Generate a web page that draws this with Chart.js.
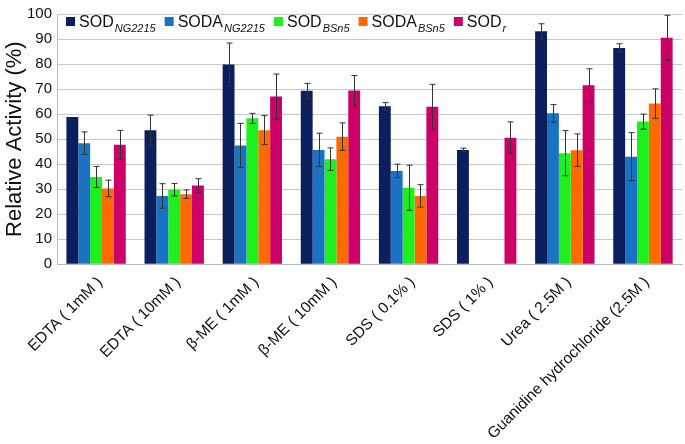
<!DOCTYPE html>
<html>
<head>
<meta charset="utf-8">
<script src="https://cdn.jsdelivr.net/npm/chart.js@4.4.0/dist/chart.umd.min.js"></script>
<style>
  html, body { margin: 0; padding: 0; background: #fff; }
  #wrap { width: 685px; height: 444px; }
</style>
</head>
<body>
<div id="wrap"><canvas id="chart" width="685" height="444"></canvas></div>
<script>
// categories (x axis)
const categories = [
  "EDTA ( 1mM )", "EDTA ( 10mM )", "β-ME ( 1mM )", "β-ME ( 10mM )",
  "SDS ( 0.1% )", "SDS ( 1% )", "Urea ( 2.5M )", "Guanidine hydrochloride (2.5M )"
];

// series values and error bars
const sodNG = [58.8, 53.6, 79.8, 69.3, 63.1, 45.7, 93.1, 86.4];
const sodNGErr = [0, 6, 8.6, 3, 1.5, 0.7, 3, 1.7];
const sodaNG = [48.4, 27.3, 47.5, 45.7, 37.3, null, 60.3, 43];
const sodaNGErr = [4.5, 4.9, 8.8, 6.7, 2.7, 0, 3.5, 9.6];
const sodBS = [34.9, 29.8, 58.3, 42, 30.6, null, 44.4, 57];
const sodBSErr = [4.2, 2.5, 2, 4.5, 9, 0, 9, 3];
const sodaBS = [30.3, 28, 53.6, 51, 27.3, null, 45.6, 64.2];
const sodaBSErr = [3.3, 1.7, 5.8, 5.5, 4.5, 0, 6.5, 5.9];
const sodR = [47.8, 31.5, 67, 69.4, 62.9, 50.6, 71.5, 90.5];
const sodRErr = [5.7, 2.7, 9, 6, 9, 6.3, 6.6, 9];

// legend text: main name + subscript
const seriesNames = ["SOD", "SODA", "SOD", "SODA", "SOD"];
const seriesSubs = ["NG2215", "NG2215", "BSn5", "BSn5", "r"];
const seriesColors = ["#0b1f5e", "#1a72c2", "#1ef01e", "#ff6a00", "#cc0066"];

const yTicks = [0, 10, 20, 30, 40, 50, 60, 70, 80, 90, 100];

const allValues = [sodNG, sodaNG, sodBS, sodaBS, sodR];
const allErrors = [sodNGErr, sodaNGErr, sodBSErr, sodaBSErr, sodRErr];

const FONT = "'Liberation Sans', Arial, sans-serif";

// draws the error bars on top of the bars
const errorBars = {
  id: "errorBars",
  afterDatasetsDraw(chart) {
    const ctx = chart.ctx;
    const y = chart.scales.y;
    ctx.save();
    ctx.strokeStyle = "#333";
    ctx.lineWidth = 1;
    allValues.forEach((vals, d) => {
      const meta = chart.getDatasetMeta(d);
      vals.forEach((v, i) => {
        const e = allErrors[d][i];
        if (v === null || !e) return;
        const x = Math.round(meta.data[i].x) + 0.5;
        const top = y.getPixelForValue(v + e);
        const bot = y.getPixelForValue(v - e);
        ctx.beginPath();
        ctx.moveTo(x, top); ctx.lineTo(x, bot);
        ctx.moveTo(x - 3, top); ctx.lineTo(x + 3, top);
        ctx.moveTo(x - 3, bot); ctx.lineTo(x + 3, bot);
        ctx.stroke();
      });
    });
    ctx.restore();
  }
};

// legend inside the plot with subscripts
const subLegend = {
  id: "subLegend",
  afterDraw(chart) {
    const ctx = chart.ctx;
    let x = chart.chartArea.left + 9;
    const base = 27;
    ctx.save();
    ctx.textBaseline = "alphabetic";
    seriesNames.forEach((name, i) => {
      ctx.fillStyle = seriesColors[i];
      ctx.fillRect(x, 17, 9, 9);
      x += 13;
      ctx.fillStyle = "#111";
      ctx.font = "16px " + FONT;
      ctx.fillText(name, x, base);
      x += ctx.measureText(name).width + 1;
      ctx.font = "italic 11px " + FONT;
      ctx.fillText(seriesSubs[i], x, base + 5);
      x += ctx.measureText(seriesSubs[i]).width + 9;
    });
    ctx.restore();
  }
};

const ctx = document.getElementById("chart").getContext("2d");
new Chart(ctx, {
  type: "bar",
  data: {
    labels: categories,
    datasets: allValues.map((vals, i) => ({
      label: seriesNames[i] + seriesSubs[i],
      data: vals,
      backgroundColor: seriesColors[i],
      borderWidth: 0,
      categoryPercentage: 0.76,
      barPercentage: 1.0,
    })),
  },
  options: {
    responsive: false,
    animation: false,
    layout: { padding: { top: 2, right: 3, left: 4, bottom: -8 } },
    plugins: {
      legend: { display: false },
      tooltip: { enabled: false },
    },
    scales: {
      x: {
        grid: { display: false, drawTicks: false },
        border: { color: "#bbb", width: 1 },
        ticks: {
          color: "#111",
          font: { family: FONT, size: 15.5 },
          maxRotation: 45,
          minRotation: 45,
          autoSkip: false,
          labelOffset: 4,
          padding: 9,
        },
      },
      y: {
        min: 0,
        max: 100,
        afterBuildTicks(axis) { axis.ticks = yTicks.map((v) => ({ value: v })); },
        grid: { color: "#c8c8c8", drawTicks: false },
        border: { display: true, color: "#bbb" },
        ticks: {
          color: "#111",
          font: { family: FONT, size: 15 },
          padding: 5,
        },
        title: {
          display: true,
          text: "Relative Activity (%)",
          color: "#111",
          font: { family: FONT, size: 22, lineHeight: 1 },
          padding: { top: 0, bottom: -4 },
        },
      },
    },
  },
  plugins: [errorBars, subLegend],
});
</script>
</body>
</html>
